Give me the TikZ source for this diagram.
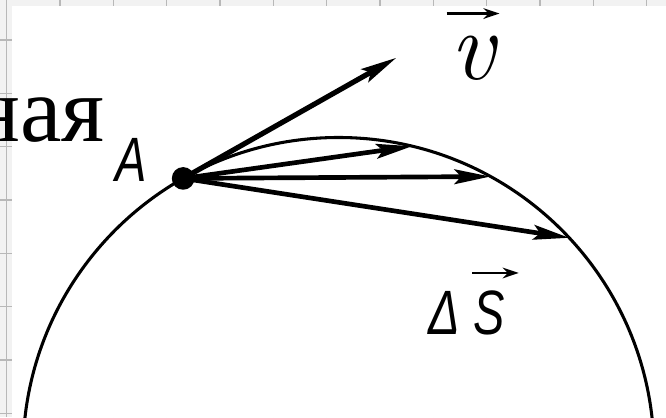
\documentclass[tikz,border=0pt]{standalone}
\usepackage{fontspec}
\setmainfont{Liberation Serif}
\newfontfamily\gost[FakeStretch=0.75]{Liberation Sans}
\newfontfamily\lmr{Latin Modern Roman}
\usetikzlibrary{arrows.meta,calc}

\begin{document}
\begin{tikzpicture}[
  x=0.75pt, y=0.75pt,
  >={Stealth[length=27pt,width=11pt,inset=5pt]},
  gridline/.style={draw=black!28, line width=1.1pt},
  orbit/.style={draw=black, line width=2.3pt},
  vel/.style={->, draw=black, line width=3.9pt},
  chord/.style={->, draw=black, line width=3.5pt},
  pt/.style={circle, fill=black, inner sep=0pt, minimum size=17pt},
  lbl/.style={inner sep=0pt, font=\gost\itshape\fontsize{47}{50}\selectfont},
  vecarr/.style={-{Stealth[length=12pt,width=8pt]}, draw=black, line width=1.8pt}
]
\useasboundingbox (0,0) rectangle (666,417);
\begin{scope}
\clip (0,0) rectangle (666,417);
% ---------------- squared paper
\fill[black!5] (0,0) rectangle (666,417);
\foreach \i in {0,...,12} { \draw[gridline] ({6.67+53.33*\i},0) -- ++(0,417); }
\foreach \j in {0,...,7} { \draw[gridline] (0,{3.7+53.33*\j}) -- ++(666,0); }
\fill[white] (11.5,0) rectangle (666,411);
% cut-off word
\node[anchor=base east, inner sep=0pt, font=\fontsize{70}{72}\selectfont] (word) at (105,275) {ная};
% ---------------- circle and chords
\coordinate (O) at (338.5,-36);
\draw[orbit] (O) circle (315.5);
\node[pt] (A) at ($(O)+(119.5:315.5)$) {};
\coordinate (p1) at ($(O)+(76.5:315.5)$);
\coordinate (p2) at ($(O)+(61.2:315.5)$);
\coordinate (p3) at ($(O)+(43:315.5)$);
\coordinate (vt) at ($(A.center)+(29.5:245)$);
\draw[vel] (A.center) -- (vt);
\foreach \i in {1,2,3} { \draw[chord] (A.center) -- (p\i); }
% ---------------- labels
\node[lbl, anchor=base] (la) at (131,235) {A};
\node[inner sep=0pt, anchor=base, font=\lmr\itshape\fontsize{74}{76}\selectfont] (lv) at (473,337) {v};
\draw[vecarr] ([xshift=-3pt,yshift=17pt]lv.north west) -- ([xshift=3pt,yshift=17pt]lv.north east);
\node[lbl, anchor=base] (ds) at (467,82) {Δ\hspace{10pt}S};
\draw[vecarr] ([xshift=-25pt,yshift=13.5pt]ds.north east) -- ([xshift=10pt,yshift=13.5pt]ds.north east);
\end{scope}
\end{tikzpicture}
\end{document}
